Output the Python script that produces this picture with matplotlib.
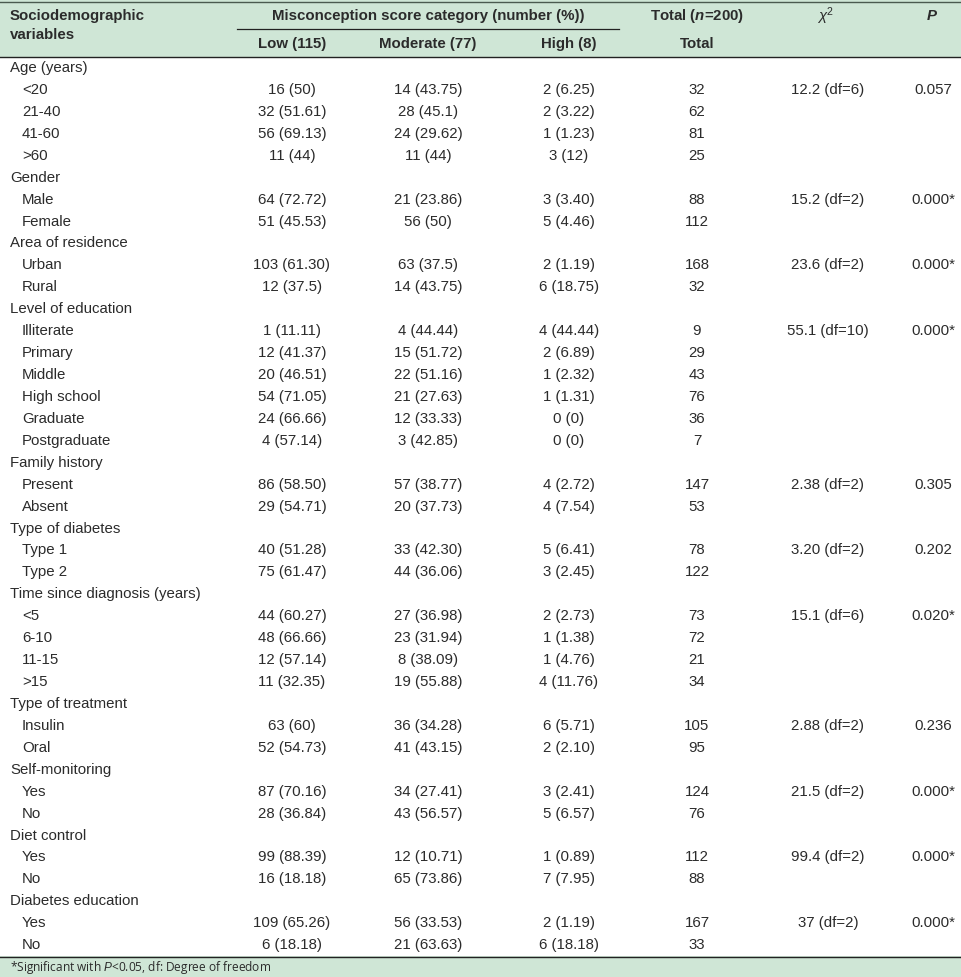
import matplotlib.pyplot as plt
from matplotlib.patches import Rectangle

# ---- data ----
groups = ["Age (years)", "Gender", "Area of residence", "Level of education",
          "Family history", "Type of diabetes", "Time since diagnosis (years)",
          "Type of treatment", "Self-monitoring", "Diet control", "Diabetes education"]
sublabels = [["<20", "21-40", "41-60", ">60"],
             ["Male", "Female"],
             ["Urban", "Rural"],
             ["Illiterate", "Primary", "Middle", "High school", "Graduate", "Postgraduate"],
             ["Present", "Absent"],
             ["Type 1", "Type 2"],
             ["<5", "6-10", "11-15", ">15"],
             ["Insulin", "Oral"],
             ["Yes", "No"],
             ["Yes", "No"],
             ["Yes", "No"]]
low_n = [16, 32, 56, 11, 64, 51, 103, 12, 1, 12, 20, 54, 24, 4, 86, 29, 40, 75,
         44, 48, 12, 11, 63, 52, 87, 28, 99, 16, 109, 6]
low_pct = ["50", "51.61", "69.13", "44", "72.72", "45.53", "61.30", "37.5",
           "11.11", "41.37", "46.51", "71.05", "66.66", "57.14", "58.50", "54.71",
           "51.28", "61.47", "60.27", "66.66", "57.14", "32.35", "60", "54.73",
           "70.16", "36.84", "88.39", "18.18", "65.26", "18.18"]
mod_n = [14, 28, 24, 11, 21, 56, 63, 14, 4, 15, 22, 21, 12, 3, 57, 20, 33, 44,
         27, 23, 8, 19, 36, 41, 34, 43, 12, 65, 56, 21]
mod_pct = ["43.75", "45.1", "29.62", "44", "23.86", "50", "37.5", "43.75",
           "44.44", "51.72", "51.16", "27.63", "33.33", "42.85", "38.77", "37.73",
           "42.30", "36.06", "36.98", "31.94", "38.09", "55.88", "34.28", "43.15",
           "27.41", "56.57", "10.71", "73.86", "33.53", "63.63"]
high_n = [2, 2, 1, 3, 3, 5, 2, 6, 4, 2, 1, 1, 0, 0, 4, 4, 5, 3, 2, 1, 1, 4, 6, 2,
          3, 5, 1, 7, 2, 6]
high_pct = ["6.25", "3.22", "1.23", "12", "3.40", "4.46", "1.19", "18.75",
            "44.44", "6.89", "2.32", "1.31", "0", "0", "2.72", "7.54", "6.41",
            "2.45", "2.73", "1.38", "4.76", "11.76", "5.71", "2.10", "2.41",
            "6.57", "0.89", "7.95", "1.19", "18.18"]
totals = [32, 62, 81, 25, 88, 112, 168, 32, 9, 29, 43, 76, 36, 7, 147, 53, 78,
          122, 73, 72, 21, 34, 105, 95, 124, 76, 112, 88, 167, 33]
chi2 = ["12.2 (df=6)", "15.2 (df=2)", "23.6 (df=2)", "55.1 (df=10)", "2.38 (df=2)",
        "3.20 (df=2)", "15.1 (df=6)", "2.88 (df=2)", "21.5 (df=2)", "99.4 (df=2)",
        "37 (df=2)"]
pvals = ["0.057", "0.000*", "0.000*", "0.000*", "0.305", "0.202", "0.020*",
         "0.236", "0.000*", "0.000*", "0.000*"]

# ---- layout (pixel coords) ----
W, H = 962, 977
green = "#cfe6d6"
txt = "#2b2b2b"
fs = 10.8
font = "Liberation Sans"

plt.rcParams["mathtext.fontset"] = "custom"
plt.rcParams["mathtext.rm"] = "Liberation Sans"
plt.rcParams["mathtext.it"] = "Liberation Sans:italic"
plt.rcParams["mathtext.bf"] = "Liberation Sans:bold"
plt.rcParams["mathtext.bfit"] = "Liberation Sans:italic:bold"

fig = plt.figure(figsize=(W / 100, H / 100), dpi=100)
ax = fig.add_axes([0, 0, 1, 1])
ax.set_xlim(0, W)
ax.set_ylim(H, 0)
ax.axis("off")

ax.add_patch(Rectangle((0, 0), W, 57, color=green, lw=0))
ax.add_patch(Rectangle((0, 956), W, 21, color=green, lw=0))
ax.plot([0, W], [1.5, 1.5], color="#4a5a4f", lw=1.0)
ax.plot([237, 619], [29, 29], color="#222222", lw=0.9)
ax.plot([0, W], [57, 57], color="#222222", lw=1.0)
ax.plot([0, W], [956.5, 956.5], color="#222222", lw=1.0)

col_x = [292, 428, 569, 697, 828, 933]

def t(x, y, s, ha="center", bold=False, **kw):
    ax.text(x, y, s, ha=ha, va="center", fontsize=fs, color=txt,
            fontweight="bold" if bold else "normal", family=font, **kw)

# header
t(10, 16, "Sociodemographic", ha="left", bold=True)
t(10, 35, "variables", ha="left", bold=True)
t(428, 16, "Misconception score category (number (%))", bold=True)
t(697, 16, "Total ($\\mathbfit{n}$=200)", bold=True)
t(826, 16, "$\\chi^2$")
t(932, 16, "P", bold=True, style="italic")
t(292, 44, "Low (115)", bold=True)
t(428, 44, "Moderate (77)", bold=True)
t(569, 44, "High (8)", bold=True)
t(697, 44, "Total", bold=True)

# body
y0, dy = 68, 21.93
row = 0
i = 0
for g, name in enumerate(groups):
    t(10, y0 + row * dy, name, ha="left")
    row += 1
    for k, lab in enumerate(sublabels[g]):
        y = y0 + row * dy
        t(22, y, lab, ha="left")
        t(col_x[0], y, f"{low_n[i]} ({low_pct[i]})")
        t(col_x[1], y, f"{mod_n[i]} ({mod_pct[i]})")
        t(col_x[2], y, f"{high_n[i]} ({high_pct[i]})")
        t(col_x[3], y, str(totals[i]))
        if k == 0:
            t(col_x[4], y, chi2[g])
            t(col_x[5], y, pvals[g])
        row += 1
        i += 1

ax.text(10, 967.5, "*Significant with $\\it{P}$<0.05, df: Degree of freedom",
        ha="left", va="center", fontsize=8.6, color=txt, family="Open Sans")

fig.savefig("out.png", dpi=100)
